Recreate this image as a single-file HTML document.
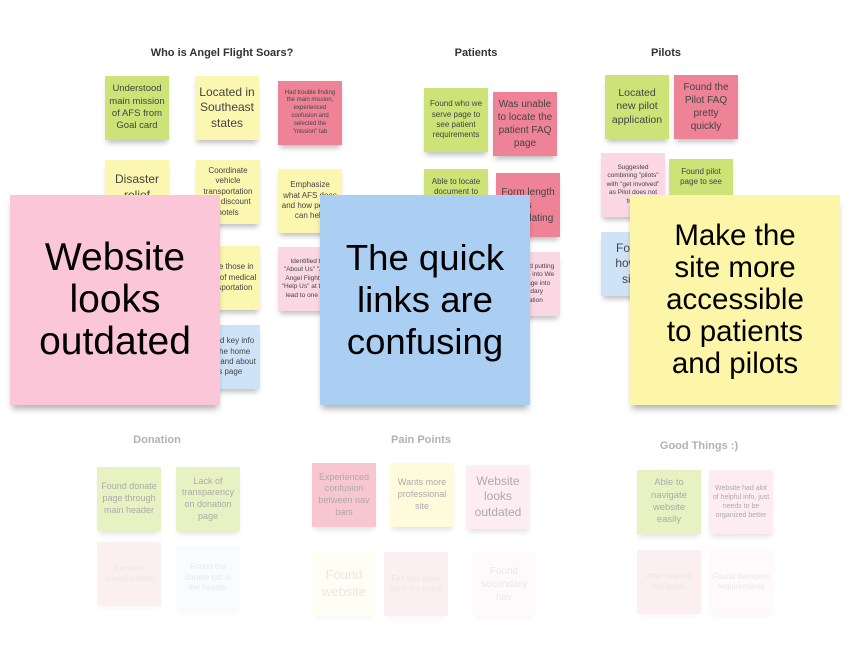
<!DOCTYPE html>
<html><head><meta charset="utf-8"><style>
body{margin:0;width:850px;height:665px;background:#fff;position:relative;overflow:hidden;font-family:"Liberation Sans",sans-serif}
.t{position:absolute;font-weight:bold;font-size:11px;color:#333;transform:translateX(-50%);white-space:nowrap}
.n{position:absolute;width:64px;height:64px;display:flex;align-items:center;justify-content:center;text-align:center;color:#444;font-size:8px;line-height:1.3;box-shadow:0 5px 5px -2px rgba(0,0,0,.25);box-sizing:border-box;padding:3px;overflow:hidden}
.g{background:#cde277}.y{background:#fbf7b0}.r{background:#ee8397}.p{background:#fbd7e3}.b{background:#cfe3f8}
.L{font-size:12px}
.big{position:absolute;top:195px;width:210px;height:210px;display:flex;align-items:center;justify-content:center;text-align:center;color:#000;box-shadow:0 6px 6px -2px rgba(0,0,0,.3)}
.f1{opacity:.45}.f2{opacity:.12}
</style></head><body>
<div class="t" style="left:222px;top:47px">Who is Angel Flight Soars?</div>
<div class="t" style="left:476px;top:47px">Patients</div>
<div class="t" style="left:666px;top:47px">Pilots</div>

<div class="n g" style="left:105px;top:76px;font-size:9.5px">Understood main mission of AFS from Goal card</div>
<div class="n y L" style="left:195px;top:76px">Located in Southeast states</div>
<div class="n r" style="left:278px;top:81px;font-size:6px">Had trouble finding the main mission, experienced confusion and selected the "mission" tab</div>
<div class="n y L" style="left:105px;top:160px;align-items:flex-start;padding-top:12px">Disaster relief</div>
<div class="n y" style="left:196px;top:160px">Coordinate vehicle transportation and discount hotels</div>
<div class="n y" style="left:278px;top:169px">Emphasize what AFS does and how people can help</div>
<div class="n y" style="left:196px;top:246px">Serve those in need of medical transportation</div>
<div class="n p" style="left:278px;top:247px;font-size:6.5px">Identified that "About Us" "About Angel Flight" and "Help Us" at the top lead to one page</div>
<div class="n b" style="left:196px;top:325px">Found key info on the home page and about us page</div>

<div class="n g" style="left:424px;top:88px">Found who we serve page to see patient requirements</div>
<div class="n r L" style="left:493px;top:92px;font-size:10px">Was unable to locate the patient FAQ page</div>
<div class="n g" style="left:424px;top:169px;align-items:flex-start;padding-top:8px">Able to locate document to</div>
<div class="n r" style="left:496px;top:173px;font-size:10px">Form length is intimidating</div>
<div class="n p" style="left:496px;top:252px;font-size:6.5px">Suggested putting about info into We serve page into secondary navigation</div>

<div class="n g L" style="left:605px;top:75px;font-size:10.5px">Located new pilot application</div>
<div class="n r" style="left:674px;top:75px;font-size:10px">Found the Pilot FAQ pretty quickly</div>
<div class="n p" style="left:601px;top:153px;font-size:6.5px">Suggested combining "pilots" with "get involved" as Pilot does not from</div>
<div class="n g" style="left:669px;top:159px;align-items:flex-start;padding-top:8px">Found pilot page to see</div>
<div class="n b L" style="left:601px;top:232px">Found how to sign</div>

<div class="big" style="left:10px;background:#fcc6d9;font-size:39px;line-height:42px">Website<br>looks<br>outdated</div>
<div class="big" style="left:320px;background:#abcff3;font-size:36.5px;line-height:42px">The quick<br>links are<br>confusing</div>
<div class="big" style="left:630px;background:#fdf5a8;font-size:29.5px;line-height:32px">Make the<br>site more<br>accessible<br>to patients<br>and pilots</div>

<div class="t f1" style="left:157px;top:434px;color:#555">Donation</div>
<div class="t f1" style="left:421px;top:434px;color:#555">Pain Points</div>
<div class="t f1" style="left:699px;top:440px;color:#555">Good Things :)</div>

<div class="n g f1" style="left:97px;top:467px;font-size:9px">Found donate page through main header</div>
<div class="n g f1" style="left:176px;top:467px;font-size:9px">Lack of transparency on donation page</div>
<div class="n r f1" style="left:312px;top:463px;font-size:9px">Experienced confusion between nav bars</div>
<div class="n y f1" style="left:390px;top:463px;font-size:9px">Wants more professional site</div>
<div class="n p f1" style="left:466px;top:465px;font-size:12px">Website looks outdated</div>
<div class="n g f1" style="left:637px;top:470px;font-size:9.5px">Able to navigate website easily</div>
<div class="n p f1" style="left:709px;top:470px;font-size:7px">Website had alot of helpful info, just needs to be organized better</div>

<div class="n r f2" style="left:97px;top:542px">Became overwhelmed</div>
<div class="n b f2" style="left:176px;top:546px">Found the donate tab in the header</div>
<div class="n y f2" style="left:312px;top:552px;font-size:13px">Found website</div>
<div class="n r f2" style="left:384px;top:552px">Felt that there were too many</div>
<div class="n p f2" style="left:472px;top:552px;font-size:10px">Found secondary nav</div>
<div class="n r f2" style="left:637px;top:550px">After reading the goals</div>
<div class="n p f2" style="left:709px;top:550px">Found transport requirements</div>
</body></html>
